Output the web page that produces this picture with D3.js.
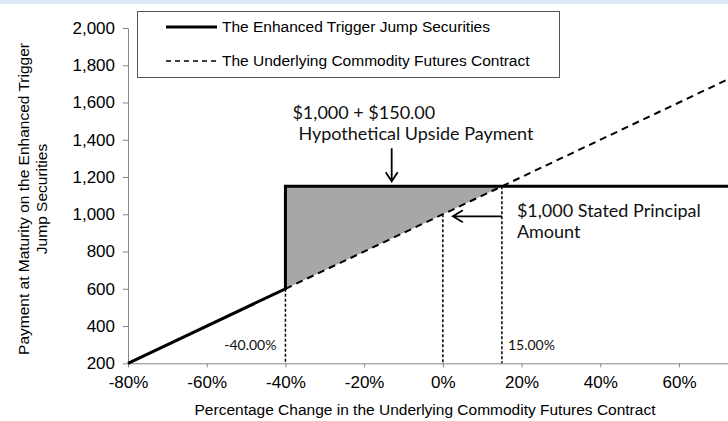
<!DOCTYPE html>
<html>
<head>
<meta charset="utf-8">
<script src="https://cdn.jsdelivr.net/npm/d3@7"></script>
<style>
  body { margin: 0; background: #fff; }
  svg { display: block; }
  .axis path, .axis line { stroke: #868686; }
</style>
</head>
<body>
<svg width="728" height="421"></svg>
<script>
// chart values
var xTicks = [-80, -60, -40, -20, 0, 20, 40, 60];
var yTicks = [200, 400, 600, 800, 1000, 1200, 1400, 1600, 1800, 2000];
// security payment at maturity (x in %, y in $)
var securityX = [-80, -40, -40, 75];
var securityY = [200, 600, 1150, 1150];
// underlying contract value
var underlyingX = [-40, 75];
var underlyingY = [600, 1750];
// shaded upside area: top payment vs underlying
var areaX = [-40, 15];
var areaTop = 1150;
// dotted reference lines
var refX = [-40, 0, 15];
var refY = [600, 1000, 1150];
var legendLabels = ["The Enhanced Trigger Jump Securities", "The Underlying Commodity Futures Contract"];

var svg = d3.select("svg"),
  width = +svg.attr("width"),
  height = +svg.attr("height");

var x = d3.scaleLinear().domain([-80, 60]).range([128, 679]);
var y = d3.scaleLinear().domain([200, 2000]).range([363.3, 28]);

// thin blue strip on top
svg.append("rect").attr("x", 0).attr("y", 0).attr("width", width).attr("height", 4).attr("fill", "#dde9f4");

// shaded area
svg.append("path")
  .datum(areaX)
  .attr("fill", "#a7a7a7")
  .attr("d", d3.area()
    .x(function(d) { return x(d); })
    .y0(function(d) { return y(1000 * (1 + d / 100)); })
    .y1(function() { return y(areaTop); }));

// axes
svg.append("g")
  .attr("class", "axis")
  .attr("transform", "translate(0," + y(200) + ")")
  .call(d3.axisBottom(x).tickValues(xTicks).tickSize(4).tickSizeOuter(0).tickPadding(9)
    .tickFormat(function(d) { return d + "%"; }))
  .call(function(g) { g.select(".domain").attr("d", "M" + x(-80) + ",0.5H" + width); });

svg.append("g")
  .attr("class", "axis")
  .attr("transform", "translate(" + x(-80) + ",0)")
  .call(d3.axisLeft(y).tickValues(yTicks).tickSize(5).tickSizeOuter(0).tickPadding(8)
    .tickFormat(d3.format(",")));

svg.selectAll(".axis text")
  .style("font-family", "'Liberation Sans', Arial, sans-serif")
  .style("font-size", "17px")
  .attr("fill", "#000");

// dotted verticals
svg.append("g").selectAll("line")
  .data(refX)
  .enter().append("line")
    .attr("x1", function(d) { return x(d); })
    .attr("x2", function(d) { return x(d); })
    .attr("y1", function(d, i) { return y(refY[i]); })
    .attr("y2", y(200))
    .attr("stroke", "#000")
    .attr("stroke-width", 1.5)
    .attr("stroke-dasharray", "3,2");

var line = d3.line()
  .x(function(d) { return x(d[0]); })
  .y(function(d) { return y(d[1]); });

// underlying (dashed)
svg.append("path")
  .datum(d3.zip(underlyingX, underlyingY))
  .attr("fill", "none")
  .attr("stroke", "#000")
  .attr("stroke-width", 2)
  .attr("stroke-dasharray", "7,5")
  .attr("d", line);

// security payment (solid)
svg.append("path")
  .datum(d3.zip(securityX, securityY))
  .attr("fill", "none")
  .attr("stroke", "#000")
  .attr("stroke-width", 3)
  .attr("d", line);

// legend
var legend = svg.append("g");
legend.append("rect")
  .attr("x", 137.5).attr("y", 11.5).attr("width", 422).attr("height", 66)
  .attr("fill", "#fff").attr("stroke", "#555");
legendLabels.forEach(function(lbl, i) {
  var ly = 27 + i * 34;
  legend.append("line")
    .attr("x1", 166).attr("x2", 217).attr("y1", ly).attr("y2", ly)
    .attr("stroke", "#000")
    .attr("stroke-width", i == 0 ? 3 : 1.5)
    .attr("stroke-dasharray", i == 0 ? null : "5,4");
  legend.append("text")
    .attr("x", 222).attr("y", ly + 5)
    .style("font-family", "'Liberation Sans', Arial, sans-serif")
    .style("font-size", "15.5px")
    .text(lbl);
});

// annotations
var ann = svg.append("g")
  .style("font-family", "Lato, sans-serif")
  .attr("fill", "#111");

ann.append("text").attr("x", x(-40) + 7).attr("y", y(1150) - 67).style("font-size", "18px").text("$1,000 + $150.00");
ann.append("text").attr("x", x(-40) + 13).attr("y", y(1150) - 46).style("font-size", "18px").text("Hypothetical Upside Payment");
ann.append("text").attr("x", x(15) + 15).attr("y", y(1000) + 3).style("font-size", "18px").text("$1,000 Stated Principal");
ann.append("text").attr("x", x(15) + 15).attr("y", y(1000) + 24).style("font-size", "18px").text("Amount");
ann.append("text").attr("x", x(-40) - 9).attr("y", y(200) - 13).attr("text-anchor", "end").style("font-size", "14px").text("-40.00%");
ann.append("text").attr("x", x(15) + 6).attr("y", y(200) - 13).style("font-size", "14px").text("15.00%");

// arrows
var ax = x(-13);
svg.append("path")
  .attr("d", "M" + ax + "," + (y(1150) - 38) + "V" + (y(1150) - 5) +
    "M" + (ax - 6) + "," + (y(1150) - 14) + "L" + ax + "," + (y(1150) - 5) + "L" + (ax + 6) + "," + (y(1150) - 14))
  .attr("fill", "none").attr("stroke", "#000").attr("stroke-width", 1.8);
var ay = y(1000) + 2;
var tipX = x(0) + 10;
svg.append("path")
  .attr("d", "M" + x(15) + "," + ay + "H" + tipX +
    "M" + (tipX + 10) + "," + (ay - 6) + "L" + tipX + "," + ay + "L" + (tipX + 10) + "," + (ay + 6))
  .attr("fill", "none").attr("stroke", "#000").attr("stroke-width", 1.8);

// axis titles
svg.append("text")
  .attr("x", 425).attr("y", 415)
  .attr("text-anchor", "middle")
  .style("font-family", "'Liberation Sans', Arial, sans-serif")
  .style("font-size", "15.5px")
  .text("Percentage Change in the Underlying Commodity Futures Contract");

var yt = svg.append("text")
  .attr("transform", "translate(29," + 199 + ") rotate(-90)")
  .attr("text-anchor", "middle")
  .style("font-family", "'Liberation Sans', Arial, sans-serif")
  .style("font-size", "15.5px");
yt.append("tspan").attr("x", 0).attr("dy", 0).text("Payment at Maturity on the Enhanced Trigger");
yt.append("tspan").attr("x", 0).attr("dy", 18).text("Jump Securities");
</script>
</body>
</html>
